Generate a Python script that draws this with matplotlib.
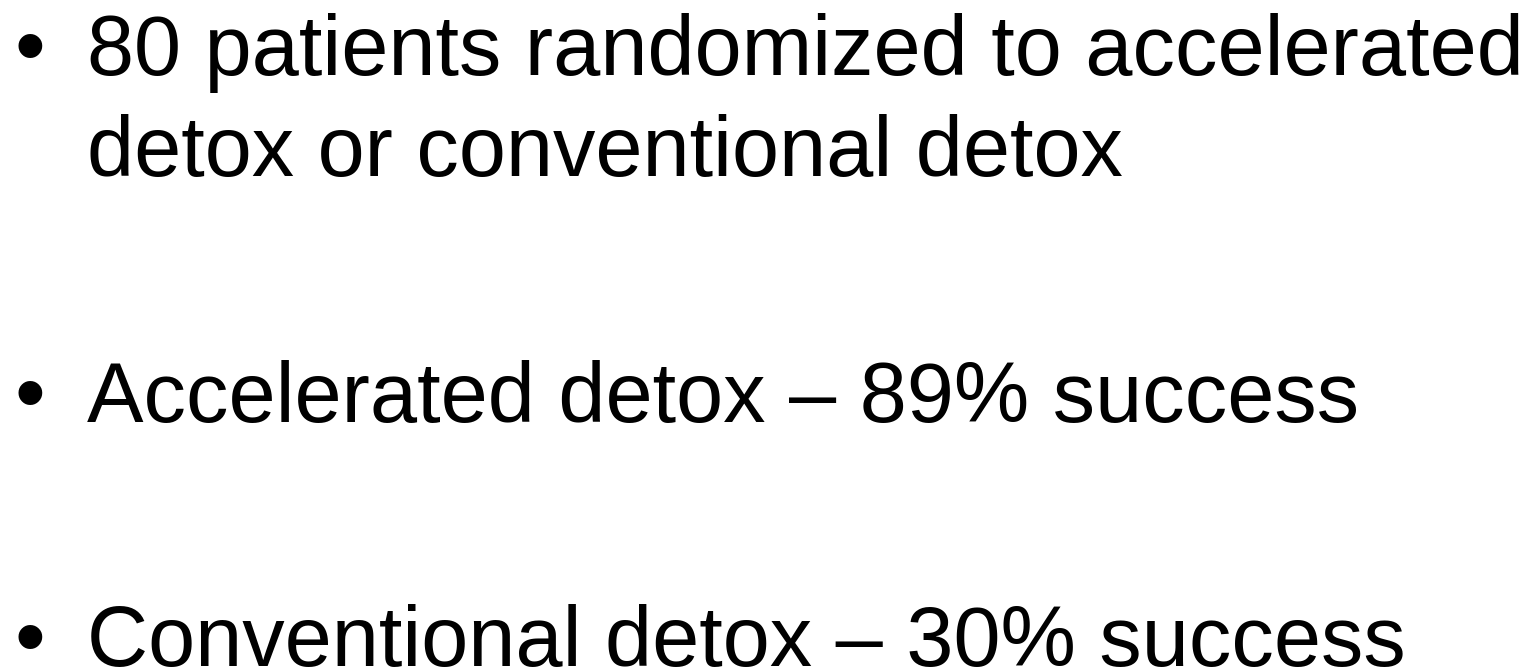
import matplotlib
matplotlib.use('Agg')
import matplotlib.pyplot as plt

# slide content: each bullet is a list of wrapped lines
bullets = [
    ['80 patients randomized to accelerated', 'detox or conventional detox'],
    ['Accelerated detox \u2013 89% success'],
    ['Conventional detox \u2013 30% success'],
]

W, H = 1535, 670
FONT = 'Liberation Sans'
SIZE = 61
BULLET_SIZE = 63

# baselines in pixels from the top, one per drawn line
baselines = [75, 176, 422, 666]
bullet_x = 14
text_x = 87

fig = plt.figure(figsize=(W / 100, H / 100), dpi=100)
ax = fig.add_axes([0, 0, 1, 1])
ax.set_xlim(0, W)
ax.set_ylim(H, 0)
ax.axis('off')

line_idx = 0
for item in bullets:
    for j, line in enumerate(item):
        y = baselines[line_idx]
        if j == 0:
            ax.text(bullet_x, y, '\u2022', fontsize=BULLET_SIZE, family=FONT,
                    ha='left', va='baseline', color='black')
        ax.text(text_x, y, line, fontsize=SIZE, family=FONT,
                ha='left', va='baseline', color='black')
        line_idx += 1

fig.savefig('out.png', dpi=100, facecolor='white')
